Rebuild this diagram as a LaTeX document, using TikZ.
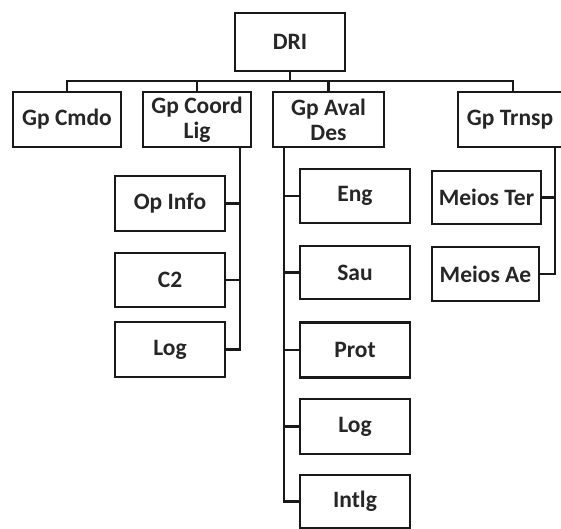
\documentclass[tikz,border=0pt]{standalone}
\usepackage{fontspec}
\setmainfont{Carlito}
\begin{document}
\begin{tikzpicture}[x=1pt,y=-1pt,
  box/.style={draw=black!90, line width=2.7pt, minimum width=110pt, minimum height=55pt,
    inner sep=0pt, align=center, font=\bfseries\fontsize{23.5}{25}\selectfont, text=black!85},
  conn/.style={draw=black!90, line width=2.7pt}]
\useasboundingbox (0,0) rectangle (561,528);
\fill[white] (0,0) rectangle (561,528);
% level 1
\node[box, minimum width=110pt, minimum height=58pt] (dri) at (290,42) {DRI};
% level 2
\node[box, minimum width=108pt] (cmdo) at (67,119.5) {Gp Cmdo};
\node[box, minimum width=108pt] (coord) at (197,119.5) {Gp Coord\\Lig};
\node[box, minimum width=111pt] (aval) at (328.5,119.5) {Gp Aval\\Des};
\node[box, minimum width=104pt] (trnsp) at (510,119.5) {Gp Trnsp};
% Coord children
\node[box] (opinfo) at (170,203.5) {Op Info};
\node[box, minimum height=54pt] (c2) at (170,280) {C2};
\node[box] (log1) at (170,349.5) {Log};
% Aval children
\node[box, minimum height=54pt] (eng) at (355,196) {Eng};
\node[box, minimum height=53pt] (sau) at (355,272.5) {Sau};
\node[box] (prot) at (355,350) {Prot};
\node[box] (log2) at (355,426.5) {Log};
\node[box, minimum height=53pt] (intlg) at (355,501.5) {Intlg};
% Trnsp children
\node[box, minimum width=109pt, minimum height=53pt] (meioster) at (486.5,197.5) {Meios Ter};
\node[box, minimum width=107pt, minimum height=54pt] (meiosae) at (485.5,274) {Meios Ae};
% helper coordinates
\coordinate (bus) at (0,81);
\coordinate (trx) at (513,0);
\coordinate (cvx) at (240,0);
\coordinate (avx) at (284,0);
\coordinate (tvx) at (555,0);
% bus
\draw[conn] (dri.south) -- (dri.south |- bus);
\draw[conn] (cmdo.north) |- (trx |- bus) -- (trx |- trnsp.north);
\draw[conn] (coord.north) -- (coord.north |- bus);
\draw[conn] (aval.north) -- (aval.north |- bus);
% coord branch
\draw[conn] (coord.south -| cvx) |- (log1.east);
\draw[conn] (opinfo.east) -- (opinfo.east -| cvx);
\draw[conn] (c2.east) -- (c2.east -| cvx);
% aval branch
\draw[conn] (aval.south -| avx) |- (intlg.west);
\draw[conn] (eng.west) -- (eng.west -| avx);
\draw[conn] (sau.west) -- (sau.west -| avx);
\draw[conn] (prot.west) -- (prot.west -| avx);
\draw[conn] (log2.west) -- (log2.west -| avx);
% trnsp branch
\draw[conn] (trnsp.south -| tvx) |- (meiosae.east);
\draw[conn] (meioster.east) -- (meioster.east -| tvx);
\end{tikzpicture}
\end{document}
